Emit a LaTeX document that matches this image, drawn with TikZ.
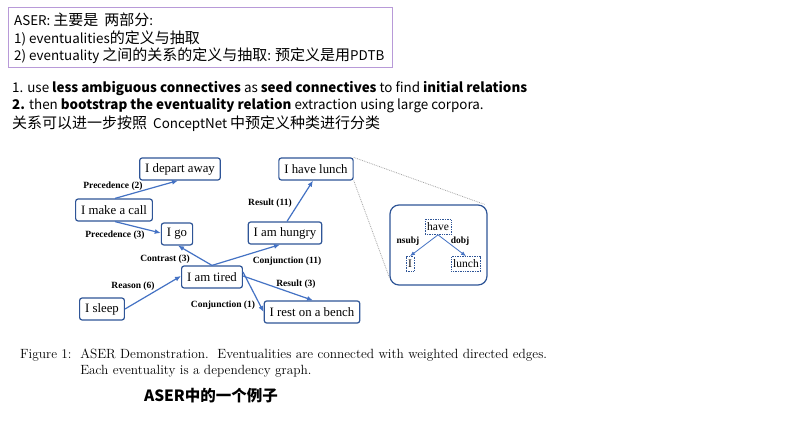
\documentclass[tikz,border=0pt]{standalone}
\usepackage{fontspec}
\setmainfont{Liberation Serif}
\newfontfamily\cjk{Noto Sans CJK SC}
\newfontfamily\lmr{Latin Modern Roman}
\usetikzlibrary{arrows.meta}
\definecolor{nodeblue}{HTML}{2F5597}
\definecolor{edgeblue}{HTML}{4472C4}
\definecolor{boxpurple}{HTML}{B89AD8}
% Chinese runs are set a little larger than the Latin text around them
\newcommand\zh[1]{{\fontsize{15}{17}\selectfont #1}}
\tikzset{
  ev/.style={draw=nodeblue, line width=1.2pt, rounded corners=2.5pt, fill=white,
    font=\fontsize{12.8}{14}\selectfont, inner xsep=5.5pt, minimum height=22pt, inner ysep=0pt},
  rel/.style={-{Latex[length=6pt,width=5pt]}, draw=edgeblue, line width=1.2pt},
  lab/.style={font=\fontsize{9.5}{11}\selectfont\bfseries, inner sep=0.5pt},
  dep/.style={draw=nodeblue, densely dotted, line width=0.7pt, font=\fontsize{11.5}{13}\selectfont,
    inner xsep=2pt, inner ysep=1pt, minimum height=15pt},
  deprel/.style={-{Latex[length=5pt,width=4pt]}, draw=edgeblue, line width=0.8pt},
  zoomline/.style={draw=gray!70, densely dotted, line width=0.8pt},
  note/.style={anchor=west, inner sep=0pt, font=\cjk\fontsize{13.4}{15}\selectfont},
}
\begin{document}
\begin{tikzpicture}[x=1pt,y=-1pt]
\useasboundingbox[fill=white] (0,0) rectangle (794,446);

% summary box
\draw[boxpurple, line width=0.8pt] (8,7) rectangle (392,67);
\node[note] (s1) at (14,20) {ASER: \zh{主要是}\ \ \zh{两部分}:};
\node[note] (s2) at (14,38) {1) eventualities\zh{的定义与抽取}};
\node[note] (s3) at (14,56) {2) eventuality \zh{之间的关系的定义与抽取}: \zh{预定义是用}PDTB};

% method notes
\node[note] (m1) at (12,89) {1. use \textbf{less ambiguous connectives} as \textbf{seed connectives} to find \textbf{initial relations}};
\node[note] (m2) at (12,106) {\textbf{2.} then \textbf{bootstrap the eventuality relation} extraction using large corpora.};
\node[note] (m3) at (12,124) {\zh{关系可以进一步按照}\ \ ConceptNet \zh{中预定义种类进行分类}};

% eventuality graph
\node[ev] (depart) at (180,169) {I depart away};
\node[ev] (call)   at (114,210) {I make a call};
\node[ev] (go)     at (177,234) {I go};
\node[ev] (tired)  at (212,277) {I am tired};
\node[ev] (sleep)  at (102,309) {I sleep};
\node[ev] (hungry) at (285,233) {I am hungry};
\node[ev] (lunch)  at (316,169) {I have lunch};
\node[ev] (bench)  at (312,312) {I rest on a bench};

\draw[rel] ([xshift=1pt]call.north) -- ([xshift=-2pt]depart.south);
\draw[rel] ([xshift=1pt]call.south) -- ([yshift=1pt]go.west);
\draw[rel] (tired.north) -- ([xshift=1pt]go.south);
\draw[rel] (sleep.east) -- ([yshift=1pt]tired.west);
\draw[rel] (tired.north) -- ([xshift=-5pt]hungry.south);
\draw[rel] ([xshift=2pt]hungry.north) -- ([xshift=-3pt]lunch.south);
\draw[rel] ([yshift=1pt]tired.east) -- ([xshift=1pt]bench.north);
\draw[rel] ([yshift=5pt]tired.east) -- (bench.west);

% relation labels
\node[lab] (l1) at (113,186) {Precedence (2)};
\node[lab] (l2) at (115,235) {Precedence (3)};
\node[lab] (l3) at (165,259) {Contrast (3)};
\node[lab] (l4) at (133,286) {Reason (6)};
\node[lab] (l5) at (287,261) {Conjunction (11)};
\node[lab] (l6) at (270,203) {Result (11)};
\node[lab] (l7) at (296,284) {Result (3)};
\node[lab] (l8) at (223,305) {Conjunction (1)};

% dependency graph of "I have lunch"
\node[draw=nodeblue, line width=1.2pt, rounded corners=9pt, minimum width=97pt, minimum height=80pt]
  (depbox) at (438.5,245) {};
\node[dep] (have) at (438,227) {have};
\node[dep] (dI)   at (410,264) {I};
\node[dep] (dl)   at (466,264) {lunch};
\draw[deprel] (have.south) -- (dI.north);
\draw[deprel] (have.south) -- (dl.north);
\node[lab] (nsubj) at (408,241) {nsubj};
\node[lab] (dobj)  at (460,241) {dobj};
\draw[zoomline] (lunch.north east) -- ([xshift=-3pt]depbox.north east);
\draw[zoomline] (lunch.south east) -- ([yshift=8pt]depbox.south west);

% caption
\node[anchor=north west, inner sep=0pt, align=left, font=\lmr\fontsize{13.35}{16}\selectfont]
  (cap) at (20,349) {Figure 1:\ \ ASER Demonstration.\ \ Eventualities are connected with weighted directed edges.\\
  \phantom{Figure 1:\ \ }Each eventuality is a dependency graph.};
\node[font=\cjk\bfseries\fontsize{15.5}{17}\selectfont, inner sep=0pt] (ex) at (211,396) {ASER中的一个例子};
\end{tikzpicture}
\end{document}
